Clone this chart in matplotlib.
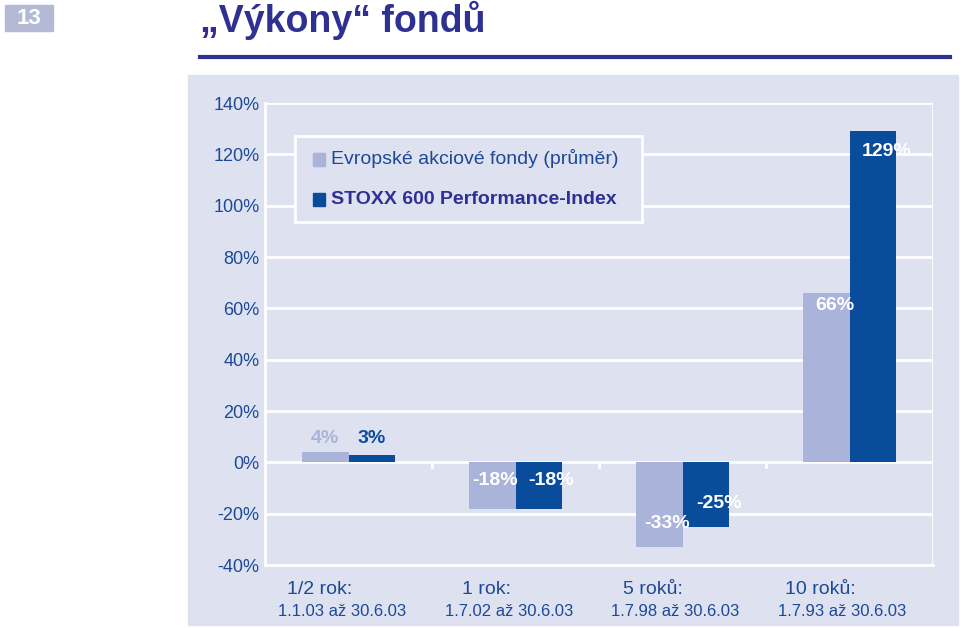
import matplotlib
matplotlib.use("Agg")
import matplotlib.pyplot as plt
from matplotlib.patches import Rectangle
plt.rcParams["font.family"] = "Liberation Sans"

categories = ["1/2 rok:", "1 rok:", "5 roků:", "10 roků:"]
periods = ["1.1.03 až 30.6.03", "1.7.02 až 30.6.03", "1.7.98 až 30.6.03", "1.7.93 až 30.6.03"]
funds = [4, -18, -33, 66]
stoxx = [3, -18, -25, 129]
yticks = [-40, -20, 0, 20, 40, 60, 80, 100, 120, 140]

W, H = 960, 628
fig = plt.figure(figsize=(W/100, H/100), dpi=100)
fig.patch.set_facecolor("white")
LIGHT = "#aab3da"; DARK = "#0a4c9c"; BG = "#dee1f0"; TXT = "#1c4a96"; TITLE = "#2e3192"

def fx(x): return x / W
def fy(y): return 1 - y / H

# header
fig.patches.append(Rectangle((fx(5), fy(31)), fx(48), 26/H, transform=fig.transFigure, color="#b4b9d6"))
fig.text(fx(29), fy(18), "13", color="white", fontsize=16, fontweight="bold", ha="center", va="center")
fig.text(fx(200), fy(20), "„Výkony“ fondů", color=TITLE, fontsize=27, fontweight="bold", va="center")
fig.lines.append(plt.Line2D([fx(200), fx(950)], [fy(57), fy(57)], transform=fig.transFigure, color=TITLE, lw=3))
# panel
fig.patches.append(Rectangle((fx(188), fy(625)), fx(770), 550/H, transform=fig.transFigure, color=BG, zorder=-5))

ax = fig.add_axes([fx(265), fy(565), fx(933-265), (565-103)/H])
ax.set_zorder(1)
ax.set_facecolor(BG)
ax.set_xlim(-0.5, 3.5); ax.set_ylim(-40, 140)
for y in yticks:
    if y != -40:
        ax.axhline(y, color="white", lw=2, zorder=1)
ax.axvline(3.5, color="white", lw=2)
for x in [0.5, 1.5, 2.5]:
    ax.plot([x, x], [0, -2], color="white", lw=2, zorder=1)
for s in ax.spines.values(): s.set_visible(False)
ax.spines["left"].set_visible(True); ax.spines["left"].set_color("white"); ax.spines["left"].set_linewidth(2)
ax.spines["bottom"].set_visible(True); ax.spines["bottom"].set_color("white"); ax.spines["bottom"].set_linewidth(2)
ax.set_yticks(yticks); ax.set_yticklabels([f"{v}%" for v in yticks], color=TXT, fontsize=13)
ax.tick_params(axis="y", length=0, pad=4); ax.set_xticks([])

xs = range(len(categories)); bw = 0.28
ax.bar([x - bw/2 for x in xs], funds, bw, color=LIGHT, zorder=2)
ax.bar([x + bw/2 for x in xs], stoxx, bw, color=DARK, zorder=2)

lab = dict(fontsize=14, fontweight="bold", zorder=3)
ax.text(0 - bw/2, 6, f"{funds[0]}%", color=LIGHT, ha="center", va="bottom", **lab)
ax.text(0 + bw/2, 6, f"{stoxx[0]}%", color=DARK, ha="center", va="bottom", **lab)
ax.text(1 - bw/2 + 0.02, funds[1]*0.4, f"{funds[1]}%", color="white", ha="center", va="center", **lab)
ax.text(1 + bw/2 + 0.07, stoxx[1]*0.4, f"{stoxx[1]}%", color="white", ha="center", va="center", **lab)
ax.text(2 - bw/2 + 0.05, funds[2]+9, f"{funds[2]}%", color="white", ha="center", va="center", **lab)
ax.text(2 + bw/2 + 0.08, stoxx[2]+9, f"{stoxx[2]}%", color="white", ha="center", va="center", **lab)
ax.text(3 - bw/2 + 0.05, funds[3]-5, f"{funds[3]}%", color="white", ha="center", va="center", **lab)
ax.text(3 + bw/2 + 0.08, stoxx[3]-8, f"{stoxx[3]}%", color="white", ha="center", va="center", **lab)

# category labels
cx = [350, 517, 683, 850]
for c, cat, per in zip(cx, categories, periods):
    fig.text(fx(c - 30), fy(589), cat, color=TXT, fontsize=14, ha="center", va="center")
    fig.text(fx(c - 8), fy(611), per, color=TXT, fontsize=12, ha="center", va="center")

# legend
fig.patches.append(Rectangle((fx(295), fy(222)), fx(347), 86/H, transform=fig.transFigure,
                             facecolor=BG, edgecolor="white", lw=2, zorder=5))
fig.patches.append(Rectangle((fx(313), fy(166)), fx(12), 13/H, transform=fig.transFigure, color=LIGHT, zorder=6))
fig.patches.append(Rectangle((fx(313), fy(206)), fx(12), 13/H, transform=fig.transFigure, color=DARK, zorder=6))
fig.text(fx(331), fy(159), "Evropské akciové fondy (průměr)", color=TXT, fontsize=14, va="center", zorder=7)
fig.text(fx(331), fy(199), "STOXX 600 Performance-Index", color=TITLE, fontsize=14, fontweight="bold", va="center", zorder=7)

fig.savefig("out.png", dpi=100, facecolor="white")
